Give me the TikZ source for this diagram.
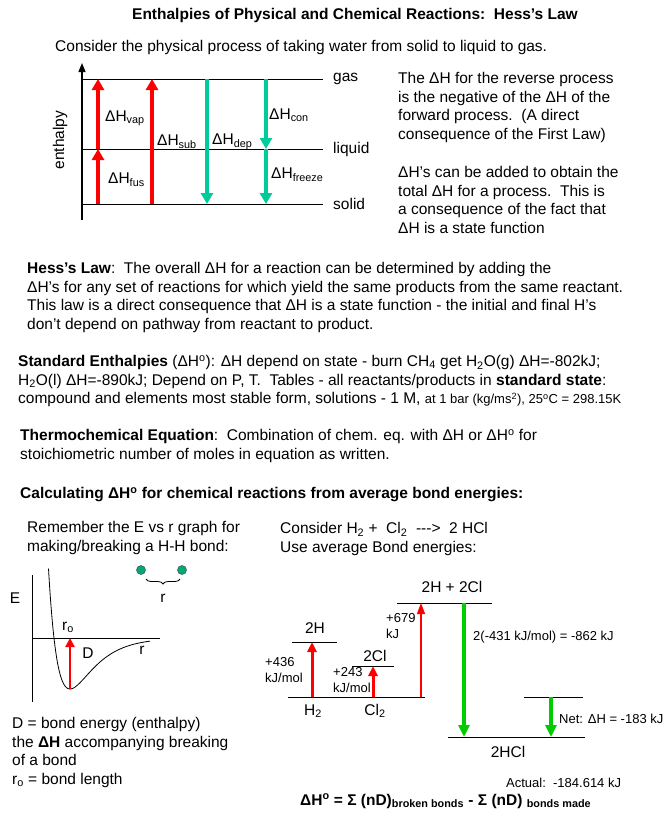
\documentclass[tikz,border=0pt]{standalone}
\usepackage{fontspec}
\setmainfont{Liberation Sans}
\usetikzlibrary{arrows.meta, positioning, calc, decorations.pathreplacing}
\definecolor{heatred}{RGB}{255,0,0}
\definecolor{phaseteal}{RGB}{0,204,153}
\definecolor{bondgreen}{RGB}{0,204,0}
\definecolor{atomteal}{RGB}{0,170,120}
\newcommand\bodyfont{\fontsize{15.5}{18.6}\selectfont}
\newcommand\labelfont{\fontsize{13}{16.5}\selectfont}

\begin{document}
\begin{tikzpicture}[
  x=1pt, y=-1pt,
  every node/.style={inner sep=0pt, font=\bodyfont},
  para/.style={anchor=north west, align=left},
  lbl/.style={font=\labelfont},
  level/.style={line width=0.9pt},
  heatup/.style={-{Triangle[width=12pt,length=11pt]}, line width=4pt, heatred},
  cooldown/.style={-{Triangle[width=12pt,length=11pt]}, line width=4.5pt, phaseteal},
  bondup/.style={-{Triangle[width=9pt,length=10pt]}, line width=3pt, heatred},
  bondthin/.style={-{Triangle[width=8pt,length=11pt]}, line width=1.2pt, heatred},
  bonddown/.style={-{Triangle[width=11pt,length=12pt]}, line width=3.5pt, bondgreen},
  atom/.style={circle, fill=atomteal, draw=black!70, line width=0.5pt, minimum size=9pt}
]
  \useasboundingbox (0,0) rectangle (671,819);

  \node[font=\bodyfont\bfseries] (title) at (355,15) {Enthalpies of Physical and Chemical Reactions:~~Hess's Law};
  \node[anchor=west] (intro) at (55,47) {Consider the physical process of taking water from solid to liquid to gas.};

  % phase diagram
  \coordinate (axisBot) at (82,220);
  \coordinate (axisTop) at (82,63);
  \draw[-{Triangle[width=7pt,length=9pt]}, line width=1.3pt] (axisBot) -- (axisTop);
  \node[rotate=90] (enth) at (60,140) {enthalpy};
  \foreach \y/\name/\txt in {79/gas/gas, 149/liq/liquid, 204/sol/solid} {
    \coordinate (\name-l) at (82,\y);
    \coordinate (\name-r) at (323,\y);
    \draw[level] (\name-l) -- (\name-r);
    \node[anchor=west] (\name-lbl) at (333,\y) {\txt};
  }
  \foreach \x/\c in {98/a, 152/b, 207/c, 266/d} {
    \coordinate (\c-gas) at (\x,79);
    \coordinate (\c-liq) at (\x,149);
    \coordinate (\c-sol) at (\x,204);
  }
  \draw[heatup] (a-sol) -- (a-liq);
  \draw[heatup] (a-liq) -- (a-gas);
  \draw[heatup] (b-sol) -- (b-gas);
  \draw[cooldown] (c-gas) -- (c-sol);
  \draw[cooldown] (d-gas) -- (d-liq);
  \draw[cooldown] (d-liq) -- (d-sol);
  \node[anchor=west] (vap) at (105,118) {ΔH\textsubscript{vap}};
  \node[anchor=west] (fus) at (108,180) {ΔH\textsubscript{fus}};
  \node[anchor=west] (sub) at (157,142) {ΔH\textsubscript{sub}};
  \node[anchor=west] (dep) at (212,142) {ΔH\textsubscript{dep}};
  \node[anchor=west] (con) at (269,115) {ΔH\textsubscript{con}};
  \node[anchor=west] (frz) at (271,175) {ΔH\textsubscript{freeze}};

  \node[para] (reverse) at (398,72) {The ΔH for the reverse process\\is the negative of the ΔH of the\\forward process.~~(A direct\\consequence of the First Law)};
  \node[para] (additive) at (398,166) {ΔH's can be added to obtain the\\total ΔH for a process.~~This is\\a consequence of the fact that\\ΔH is a state function};

  % text blocks
  \node[para] (hess) at (27,262) {\textbf{Hess's Law}:~~The overall ΔH for a reaction can be determined by adding the\\ΔH's for any set of reactions for which yield the same products from the same reactant.\\This law is a direct consequence that ΔH is a state function - the initial and final H's\\don't depend on pathway from reactant to product.};
  \node[para] (standard) at (18,355) {\textbf{Standard Enthalpies} (ΔH\textsuperscript{o}): ΔH depend on state - burn CH\textsubscript{4} get H\textsubscript{2}O(g) ΔH=-802kJ;\\H\textsubscript{2}O(l) ΔH=-890kJ; Depend on P, T.~~Tables - all reactants/products in \textbf{standard state}:\\compound and elements most stable form, solutions - 1 M, {\labelfont at 1 bar (kg/ms\textsuperscript{2}), 25\textsuperscript{o}C = 298.15K}};
  \node[para] (thermo) at (20,429) {\textbf{Thermochemical Equation}:~~Combination of chem. eq. with ΔH or ΔH\textsuperscript{o} for\\stoichiometric number of moles in equation as written.};
  \node[anchor=west, font=\bodyfont\bfseries] (calc) at (20,495) {Calculating ΔH\textsuperscript{o} for chemical reactions from average bond energies:};

  % E vs r graph
  \node[para] (remember) at (27,521) {Remember the E vs r graph for\\making/breaking a H-H bond:};
  \coordinate (eBot) at (32,702);
  \coordinate (eTop) at (32,575);
  \draw[line width=0.9pt] (eBot) -- (eTop);
  \coordinate (rL) at (32,638);
  \coordinate (rR) at (160,638);
  \draw[line width=0.9pt] (rL) -- (rR);
  \draw[line width=0.8pt] plot[domain=48.5:150, samples=100, smooth]
    (\x, {689 - 51*(1-exp(-0.0433*(\x-70)))*(1-exp(-0.0433*(\x-70)))});
  \coordinate (dMin) at (70,689);
  \coordinate (dTop) at (70,638);
  \draw[-{Triangle[width=9pt,length=9pt]}, line width=2.2pt, heatred] (dMin) -- (dTop);
  \node (eLbl) at (15,598) {E};
  \node (r0) at (68,627) {r\textsubscript{o}};
  \node (dLbl) at (88,653) {D};
  \node (rLbl) at (142,650) {r};
  \node[atom] (atomL) at (141,570) {};
  \node[atom] (atomR) at (182,570) {};
  \draw[decorate, decoration={brace, mirror, amplitude=5pt}, line width=0.8pt]
    ($(atomL)+(5,9)$) -- ($(atomR)+(-2,9)$);
  \node (rSep) at (163,598) {r};
  \node[para] (bondDef) at (12,717) {D = bond energy (enthalpy)\\the \textbf{ΔH} accompanying breaking\\of a bond\\r\textsubscript{o} = bond length};

  % bond energy diagram
  \node[para] (consider) at (280,522) {Consider H\textsubscript{2} +~~Cl\textsubscript{2}~~-{}-{}->~~2 HCl\\Use average Bond energies:};
  \coordinate (top-l) at (397,603);  \coordinate (top-r) at (492,603);
  \coordinate (hh-l) at (292,642);   \coordinate (hh-r) at (337,642);
  \coordinate (cc-l) at (352,666);   \coordinate (cc-r) at (394,666);
  \coordinate (base-l) at (288,697); \coordinate (base-r) at (425,697);
  \coordinate (net-l) at (524,697);  \coordinate (net-r) at (583,697);
  \coordinate (hcl-l) at (448,737);  \coordinate (hcl-r) at (585,737);
  \foreach \lv in {top, hh, cc, base, net, hcl}
    \draw[level] (\lv-l) -- (\lv-r);
  \coordinate (h2-base) at (312,697);  \coordinate (h2-top) at (312,642);
  \coordinate (cl2-base) at (373,697); \coordinate (cl2-top) at (373,666);
  \coordinate (all-base) at (421,697); \coordinate (all-top) at (421,603);
  \coordinate (form-top) at (464,603); \coordinate (form-bot) at (464,737);
  \coordinate (net-top) at (551,697);  \coordinate (net-bot) at (551,737);
  \draw[bondup] (h2-base) -- (h2-top);
  \draw[bondup] (cl2-base) -- (cl2-top);
  \draw[bondthin] (all-base) -- (all-top);
  \draw[bonddown] (form-top) -- (form-bot);
  \draw[bonddown] (net-top) -- (net-bot);
  \node (atoms) at (452,587) {2H + 2Cl};
  \node (hh) at (315,628) {2H};
  \node (cc) at (375,656) {2Cl};
  \node (h2) at (313,711) {H\textsubscript{2}};
  \node (cl2) at (375,711) {Cl\textsubscript{2}};
  \node (hcl) at (508,752) {2HCl};
  \node[para, lbl] (e436) at (265,657) {+436\\kJ/mol};
  \node[para, lbl] (e243) at (333,667) {+243\\kJ/mol};
  \node[para, lbl] (e679) at (386,613) {+679\\kJ};
  \node[anchor=west, lbl] (e862) at (473,637) {2(-431 kJ/mol) = -862 kJ};
  \node[anchor=west, lbl] (eNet) at (559,719) {Net: ΔH = -183 kJ};
  \node[anchor=west, lbl] (eAct) at (506,783) {Actual:~~-184.614 kJ};
  \node[anchor=west, font=\bodyfont\bfseries] (formula) at (300,801) {ΔH\textsuperscript{o} = Σ (nD)\textsubscript{broken bonds} - Σ (nD) \textsubscript{bonds made}};
\end{tikzpicture}
\end{document}
